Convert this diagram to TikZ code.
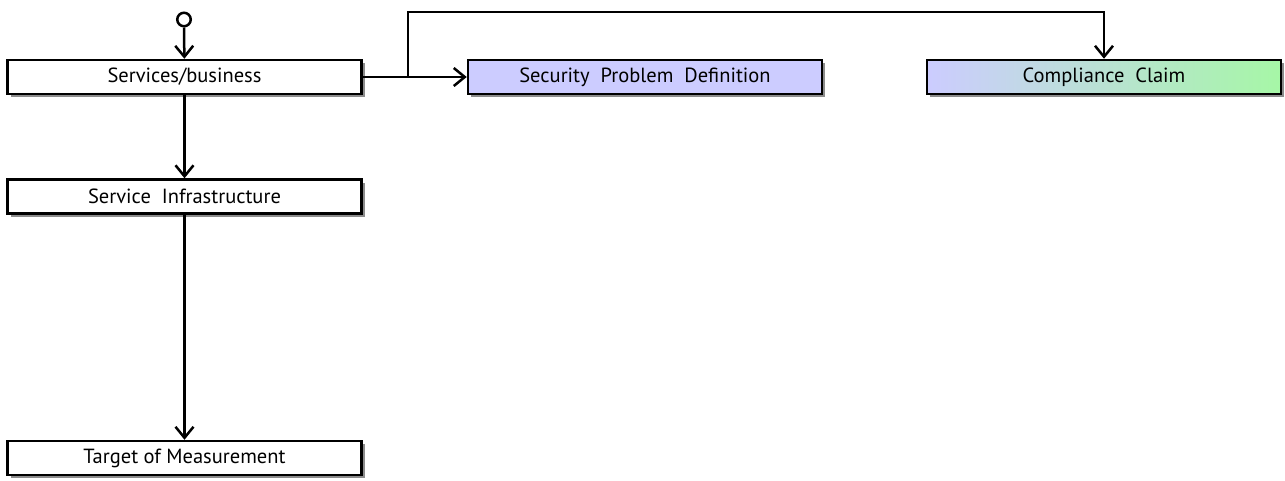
\documentclass[tikz,border=0pt]{standalone}
\usepackage{fontspec}
\setmainfont{PT Sans}
\usetikzlibrary{arrows.meta,shadows}
\definecolor{lavender}{HTML}{CCCCFF}
\definecolor{mintgreen}{HTML}{A6F7A6}
\tikzset{
  box/.style={draw=black, line width=2.5pt, minimum height=34pt, minimum width=354pt,
    inner sep=0pt, fill=white, font=\fontsize{20.5}{22}\selectfont,
    drop shadow={shadow xshift=3pt, shadow yshift=-3pt, fill=black, opacity=0.45}},
  flow/.style={line width=2.5pt, -{Straight Barb[length=11pt,width=18pt,line width=2.5pt]}}
}
\begin{document}
\begin{tikzpicture}[x=1pt,y=-1pt]
  \useasboundingbox (0,0) rectangle (1285,480);
  % start marker
  \node[draw=black, line width=2.5pt, circle, minimum size=13.5pt, inner sep=0pt] (start) at (184,19.5) {};
  % process boxes
  \node[box] (svc) at (184.5,77) {Services/business};
  \node[box] (infra) at (184.5,196.5) {Service\ \ Infrastructure};
  \node[box] (tom) at (184.5,458) {Target of Measurement};
  \node[box, fill=lavender] (spd) at (645,77) {Security\ \ Problem\ \ Definition};
  \node[box, left color=lavender, right color=mintgreen] (cc) at (1104,77) {Compliance\ \ Claim};
  % branch point
  \coordinate (split) at (408,77);
  \coordinate (upper) at (408,12);
  \coordinate (corner) at (1104,12);
  % connectors
  \draw[flow] (start) -- (svc);
  \draw[flow] (svc) -- (infra);
  \draw[flow] (infra) -- (tom);
  \draw[flow] (svc.east) -- (spd.west);
  \draw[flow] (split) -- (upper) -- (corner) -- (cc.north);
\end{tikzpicture}
\end{document}
